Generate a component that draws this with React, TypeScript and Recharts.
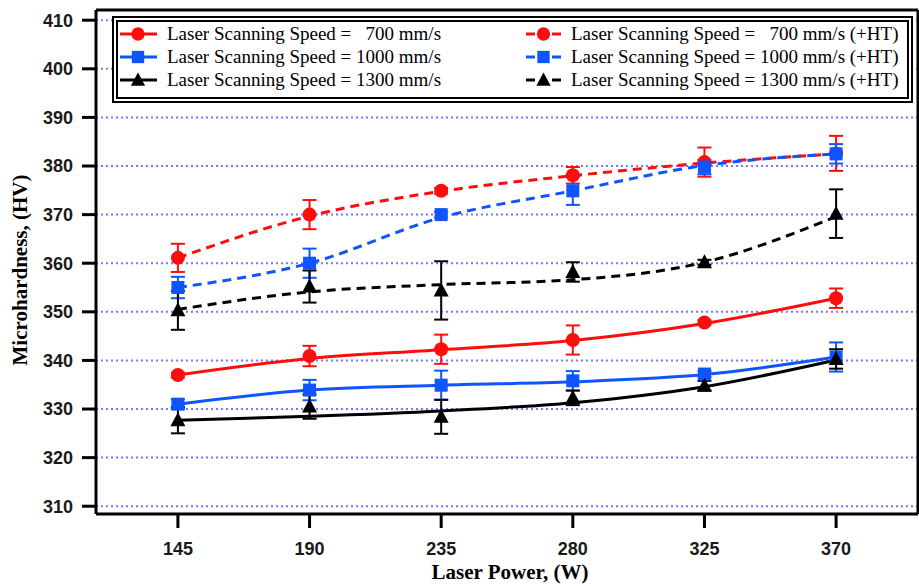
import React from 'react';
import { ComposedChart, Line, XAxis, YAxis, CartesianGrid, ErrorBar, Legend } from 'recharts';

// ---------- data ----------
const powers = [145, 190, 235, 280, 325, 370];
const yTicks = [310, 320, 330, 340, 350, 360, 370, 380, 390, 400, 410];

const hv700 = [337.0, 340.9, 342.3, 344.2, 347.8, 352.8];
const err700 = [0.5, 2.1, 3.0, 3.0, 0.5, 2.0];
const fit700 = [337.0, 340.4, 342.2, 344.1, 347.6, 352.8];

const hv1000 = [331.0, 333.9, 334.9, 335.8, 337.2, 340.7];
const err1000 = [1.0, 2.1, 3.0, 2.0, 0.6, 3.0];
const fit1000 = [331.0, 333.9, 334.9, 335.6, 337.1, 340.7];

const hv1300 = [327.7, 330.5, 328.4, 332.3, 334.8, 340.3];
const err1300 = [2.7, 2.5, 3.5, 1.5, 1.0, 2.0];
const fit1300 = [327.7, 328.5, 329.6, 331.3, 334.6, 340.1];

const hv700HT = [361.1, 370.0, 374.9, 378.1, 380.8, 382.6];
const err700HT = [2.9, 3.0, 0.6, 1.7, 3.0, 3.6];
const fit700HT = [361.1, 369.7, 374.8, 378.0, 380.6, 382.5];

const hv1000HT = [355.0, 360.0, 370.0, 374.9, 379.8, 382.5];
const err1000HT = [2.2, 3.0, 0.6, 2.9, 1.5, 2.0];
const fit1000HT = [355.0, 360.0, 369.4, 374.9, 380.1, 382.5];

const hv1300HT = [350.3, 355.2, 354.4, 358.2, 360.2, 370.2];
const err1300HT = [4.0, 3.3, 6.0, 2.0, 0.5, 5.0];
const fit1300HT = [350.5, 354.1, 355.6, 356.6, 360.2, 369.6];

const labels = [
  'Laser Scanning Speed =   700 mm/s',
  'Laser Scanning Speed = 1000 mm/s',
  'Laser Scanning Speed = 1300 mm/s',
  'Laser Scanning Speed =   700 mm/s (+HT)',
  'Laser Scanning Speed = 1000 mm/s (+HT)',
  'Laser Scanning Speed = 1300 mm/s (+HT)',
];

const xTitle = 'Laser Power, (W)';
const yTitle = 'Microhardness, (HV)';

// ---------- build table ----------
const data = powers.map((p, i) => ({
  p,
  a: hv700[i], ae: err700[i], af: fit700[i],
  b: hv1000[i], be: err1000[i], bf: fit1000[i],
  c: hv1300[i], ce: err1300[i], cf: fit1300[i],
  d: hv700HT[i], de: err700HT[i], df: fit700HT[i],
  e: hv1000HT[i], ee: err1000HT[i], ef: fit1000HT[i],
  f: hv1300HT[i], fe: err1300HT[i], ff: fit1300HT[i],
}));

const RED = '#ff0d0d';
const BLUE = '#0f55ff';
const BLACK = '#000000';

type Shape = 'circle' | 'square' | 'triangle';

const series: { key: string; color: string; shape: Shape; dashed: boolean; label: string }[] = [
  { key: 'a', color: RED, shape: 'circle', dashed: false, label: labels[0] },
  { key: 'b', color: BLUE, shape: 'square', dashed: false, label: labels[1] },
  { key: 'c', color: BLACK, shape: 'triangle', dashed: false, label: labels[2] },
  { key: 'd', color: RED, shape: 'circle', dashed: true, label: labels[3] },
  { key: 'e', color: BLUE, shape: 'square', dashed: true, label: labels[4] },
  { key: 'f', color: BLACK, shape: 'triangle', dashed: true, label: labels[5] },
];

const Marker = ({ shape, color, cx, cy, s = 1 }: { shape: Shape; color: string; cx: number; cy: number; s?: number }) => {
  if (shape === 'circle') return <circle cx={cx} cy={cy} r={7 * s} fill={color} />;
  if (shape === 'square') {
    const h = 6.5 * s;
    return <rect x={cx - h} y={cy - h} width={2 * h} height={2 * h} fill={color} />;
  }
  const w = 7.5 * s;
  return (
    <polygon
      points={`${cx},${cy - 8 * s} ${cx + w},${cy + 6 * s} ${cx - w},${cy + 6 * s}`}
      fill={color}
    />
  );
};

const makeDot = (shape: Shape, color: string) => (props: any) => {
  const { cx, cy, index } = props;
  if (cx == null || cy == null) return <g key={`n${index}`} />;
  return <Marker key={`m${index}`} shape={shape} color={color} cx={cx} cy={cy} />;
};

const SERIF = '"Liberation Serif", "Times New Roman", serif';
const SANS = '"Liberation Sans", Arial, sans-serif';

const renderLegend = () => (
  <div
    style={{
      position: 'relative',
      width: 801,
      height: 87,
      boxSizing: 'border-box',
      border: '6px double #000',
      background: '#fff',
      fontFamily: SERIF,
      fontSize: 19,
      color: '#000',
    }}
  >
    {series.map((s, i) => {
      const col = i >= 3 ? 1 : 0;
      const row = i % 3;
      const top = 2 + row * 23;
      const iconLeft = col ? 408 : 2;
      const textLeft = col ? 453 : 49;
      return (
        <React.Fragment key={s.key}>
          <svg
            width={40}
            height={20}
            style={{ position: 'absolute', left: iconLeft, top }}
          >
            {s.dashed ? (
              <>
                <line x1={0} y1={10} x2={9} y2={10} stroke={s.color} strokeWidth={3} />
                <line x1={26} y1={10} x2={35} y2={10} stroke={s.color} strokeWidth={3} />
                <Marker shape={s.shape} color={s.color} cx={17.5} cy={10} s={0.95} />
              </>
            ) : (
              <>
                <line x1={0} y1={10} x2={37} y2={10} stroke={s.color} strokeWidth={3} />
                <Marker shape={s.shape} color={s.color} cx={18} cy={10} s={0.95} />
              </>
            )}
          </svg>
          <div
            style={{
              position: 'absolute',
              left: textLeft,
              top,
              height: 20,
              lineHeight: '20px',
              whiteSpace: 'pre',
            }}
          >
            {s.label}
          </div>
        </React.Fragment>
      );
    })}
  </div>
);

export default function App() {
  const tickStyle = { fontFamily: SANS, fontSize: 18, fontWeight: 700, fill: '#1a1a1a' };
  return (
    <div style={{ position: 'absolute', left: 0, top: 0, background: '#fff' }}>
      <ComposedChart
        width={919}
        height={586}
        data={data}
        margin={{ top: 9, right: 0, bottom: 0, left: 0 }}
      >
        <CartesianGrid
          horizontal
          vertical={false}
          stroke="#7777ff"
          strokeWidth={2}
          strokeDasharray="2 3"
        />
        <XAxis
          dataKey="p"
          type="number"
          domain={[117, 398]}
          ticks={powers}
          allowDataOverflow
          height={72}
          tickSize={14}
          tickMargin={14}
          tick={tickStyle}
          tickLine={{ stroke: '#000', strokeWidth: 3 }}
          axisLine={{ stroke: '#000', strokeWidth: 3 }}
          label={{
            content: () => (
              <text
                x={510}
                y={579}
                textAnchor="middle"
                fontFamily={SERIF}
                fontWeight={700}
                fontSize={21}
                fill="#000"
              >
                {xTitle}
              </text>
            ),
          }}
        />
        <XAxis
          xAxisId="top"
          orientation="top"
          type="number"
          domain={[0, 1]}
          height={1}
          tick={false}
          tickLine={false}
          axisLine={{ stroke: '#000', strokeWidth: 3 }}
        />
        <YAxis
          type="number"
          domain={[308.4, 412.1]}
          ticks={yTicks}
          allowDataOverflow
          width={96}
          tickSize={14}
          tickMargin={9}
          tick={tickStyle}
          tickLine={{ stroke: '#000', strokeWidth: 3 }}
          axisLine={{ stroke: '#000', strokeWidth: 3 }}
          label={{
            content: () => (
              <text
                x={27}
                y={270}
                transform="rotate(-90 27 270)"
                textAnchor="middle"
                fontFamily={SERIF}
                fontWeight={700}
                fontSize={21}
                fill="#000"
              >
                {yTitle}
              </text>
            ),
          }}
        />
        <YAxis
          yAxisId="right"
          orientation="right"
          type="number"
          domain={[0, 1]}
          width={1}
          tick={false}
          tickLine={false}
          axisLine={{ stroke: '#000', strokeWidth: 3 }}
        />

        {series.map((s) => (
          <Line
            key={`${s.key}f`}
            dataKey={`${s.key}f`}
            type="monotone"
            stroke={s.color}
            strokeWidth={3}
            strokeDasharray={s.dashed ? '9 6' : undefined}
            dot={false}
            activeDot={false}
            isAnimationActive={false}
            legendType="none"
          />
        ))}

        {[series[0], series[3], series[1], series[4], series[2], series[5]].map((s) => (
          <Line
            key={`${s.key}m`}
            dataKey={s.key}
            stroke="none"
            strokeWidth={0}
            dot={makeDot(s.shape, s.color)}
            activeDot={false}
            isAnimationActive={false}
            legendType="none"
          >
            <ErrorBar
              dataKey={`${s.key}e`}
              direction="y"
              width={7}
              stroke={s.color}
              strokeWidth={2}
              isAnimationActive={false}
            />
          </Line>
        ))}

        <Legend
          content={renderLegend}
          layout="horizontal"
          verticalAlign="middle"
          align="center"
          wrapperStyle={{ left: 112, top: 16, width: 801, height: 87, margin: 0 }}
        />
      </ComposedChart>
    </div>
  );
}
